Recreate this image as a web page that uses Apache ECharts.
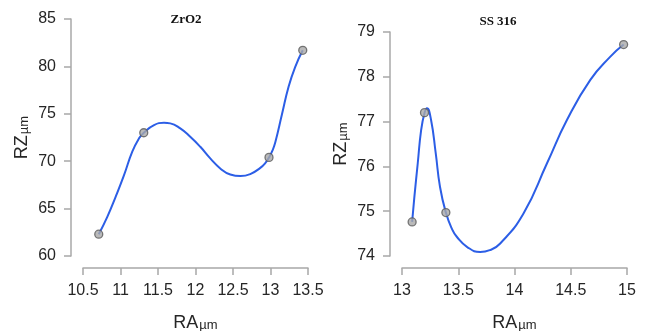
<!DOCTYPE html>
<html>
<head>
<meta charset="utf-8">
<script src="https://cdn.jsdelivr.net/npm/echarts@6/dist/echarts.min.js"></script>
<style>
html,body{margin:0;padding:0;background:#fff;}
#c{width:648px;height:331px;}
</style>
</head>
<body>
<div id="c"></div>
<script>
// ---- Data ----
// ZrO2 panel: measured points
const zrRA = [10.71, 11.31, 12.98, 13.43];
const zrRZ = [62.3, 73.0, 70.4, 81.7];
// ZrO2 panel: fitted curve
const zrCurveRA = [10.71, 10.824, 10.935, 11.047, 11.157, 11.247, 11.31, 11.447, 11.58, 11.664, 11.797, 11.93, 12.064, 12.197, 12.33, 12.464, 12.6, 12.73, 12.864, 12.93, 12.98, 13.03, 13.064, 13.153, 13.241, 13.33, 13.43];
const zrCurveRZ = [62.3, 64.13, 66.24, 68.53, 71.0, 72.41, 73.0, 73.81, 74.05, 73.99, 73.46, 72.58, 71.52, 70.3, 69.24, 68.6, 68.43, 68.64, 69.3, 69.8, 70.4, 71.2, 72.0, 74.95, 77.85, 79.96, 81.7];
// SS 316 panel: measured points
const ssRA = [13.09, 13.2, 13.39, 14.97];
const ssRZ = [74.76, 77.2, 74.97, 78.72];
// SS 316 panel: fitted curve
const ssCurveRA = [13.09, 13.11, 13.14, 13.17, 13.2, 13.222, 13.258, 13.3, 13.338, 13.39, 13.443, 13.487, 13.58, 13.695, 13.78, 13.873, 14.08, 14.289, 14.467, 14.674, 14.852, 14.97];
const ssCurveRZ = [74.76, 75.32, 76.07, 76.81, 77.19, 77.30, 77.04, 76.29, 75.54, 74.97, 74.61, 74.43, 74.2, 74.09, 74.13, 74.28, 74.95, 76.07, 77.04, 77.93, 78.45, 78.72];
// Axis ticks
const zrXTicks = {min: 10.5, max: 13.5, interval: 0.5};
const zrYTicks = {min: 60, max: 85, interval: 5};
const ssXTicks = {min: 13, max: 15, interval: 0.5};
const ssYTicks = {min: 74, max: 79, interval: 1};
const titles = ['ZrO2', 'SS 316'];

const pair = (a, b) => a.map((v, i) => [v, b[i]]);

const axisColor = '#a8a8a8';
const labelColor = '#262626';
const sans = 'Liberation Sans, Arial, sans-serif';

const nameRich = {
  a: {fontSize: 18, fontFamily: sans, color: labelColor, verticalAlign: 'bottom', lineHeight: 22},
  b: {fontSize: 13, fontFamily: sans, color: labelColor, verticalAlign: 'bottom', lineHeight: 17, padding: [0, 0, 0, 1]}
};

function xAxis(idx, t) {
  return {
    type: 'value', gridIndex: idx, min: t.min, max: t.max, interval: t.interval,
    offset: 12,
    axisLine: {show: true, lineStyle: {color: axisColor, width: 1.5}},
    axisTick: {show: true, length: 7, lineStyle: {color: axisColor, width: 1.5}},
    axisLabel: {color: labelColor, fontSize: 16, fontFamily: sans, margin: 15},
    splitLine: {show: false},
    name: '{a|RA}{b|µm}', nameLocation: 'middle', nameGap: 42,
    nameTextStyle: {rich: nameRich}
  };
}
function yAxis(idx, t) {
  return {
    type: 'value', gridIndex: idx, min: t.min, max: t.max, interval: t.interval,
    offset: 12,
    axisLine: {show: true, lineStyle: {color: axisColor, width: 1.5}},
    axisTick: {show: true, length: 7, lineStyle: {color: axisColor, width: 1.5}},
    axisLabel: {color: labelColor, fontSize: 16, fontFamily: sans, margin: 15},
    splitLine: {show: false},
    name: '{a|RZ}{b|µm}', nameLocation: 'middle', nameGap: 40,
    nameTextStyle: {rich: nameRich}
  };
}

const lineStyle = {color: '#2c5ee6', width: 2};
const pointStyle = {color: '#a9a9a9', borderColor: '#5a5a5a', borderWidth: 1.3};

const chart = echarts.init(document.getElementById('c'), null, {renderer: 'canvas'});
chart.setOption({
  animation: false,
  backgroundColor: '#ffffff',
  grid: [
    {left: 83, top: 19, width: 225, height: 237, outerBoundsMode: 'none', containLabel: false},
    {left: 402, top: 32, width: 225, height: 224, outerBoundsMode: 'none', containLabel: false}
  ],
  xAxis: [xAxis(0, zrXTicks), xAxis(1, ssXTicks)],
  yAxis: [yAxis(0, zrYTicks), yAxis(1, ssYTicks)],
  graphic: [
    {type: 'text', x: 186, y: 20, style: {text: titles[0], font: 'bold 13px "Liberation Serif", serif', fill: '#111', align: 'center', verticalAlign: 'middle'}},
    {type: 'text', x: 498, y: 22, style: {text: titles[1], font: 'bold 13px "Liberation Serif", serif', fill: '#111', align: 'center', verticalAlign: 'middle'}}
  ],
  series: [
    {type: 'line', xAxisIndex: 0, yAxisIndex: 0, data: pair(zrCurveRA, zrCurveRZ), smooth: 0.5, showSymbol: false, lineStyle: lineStyle, z: 2},
    {type: 'scatter', xAxisIndex: 0, yAxisIndex: 0, data: pair(zrRA, zrRZ), symbol: 'circle', symbolSize: 8, itemStyle: pointStyle, z: 3},
    {type: 'line', xAxisIndex: 1, yAxisIndex: 1, data: pair(ssCurveRA, ssCurveRZ), smooth: 0.5, showSymbol: false, lineStyle: lineStyle, z: 2},
    {type: 'scatter', xAxisIndex: 1, yAxisIndex: 1, data: pair(ssRA, ssRZ), symbol: 'circle', symbolSize: 8, itemStyle: pointStyle, z: 3}
  ]
});
</script>
</body>
</html>
